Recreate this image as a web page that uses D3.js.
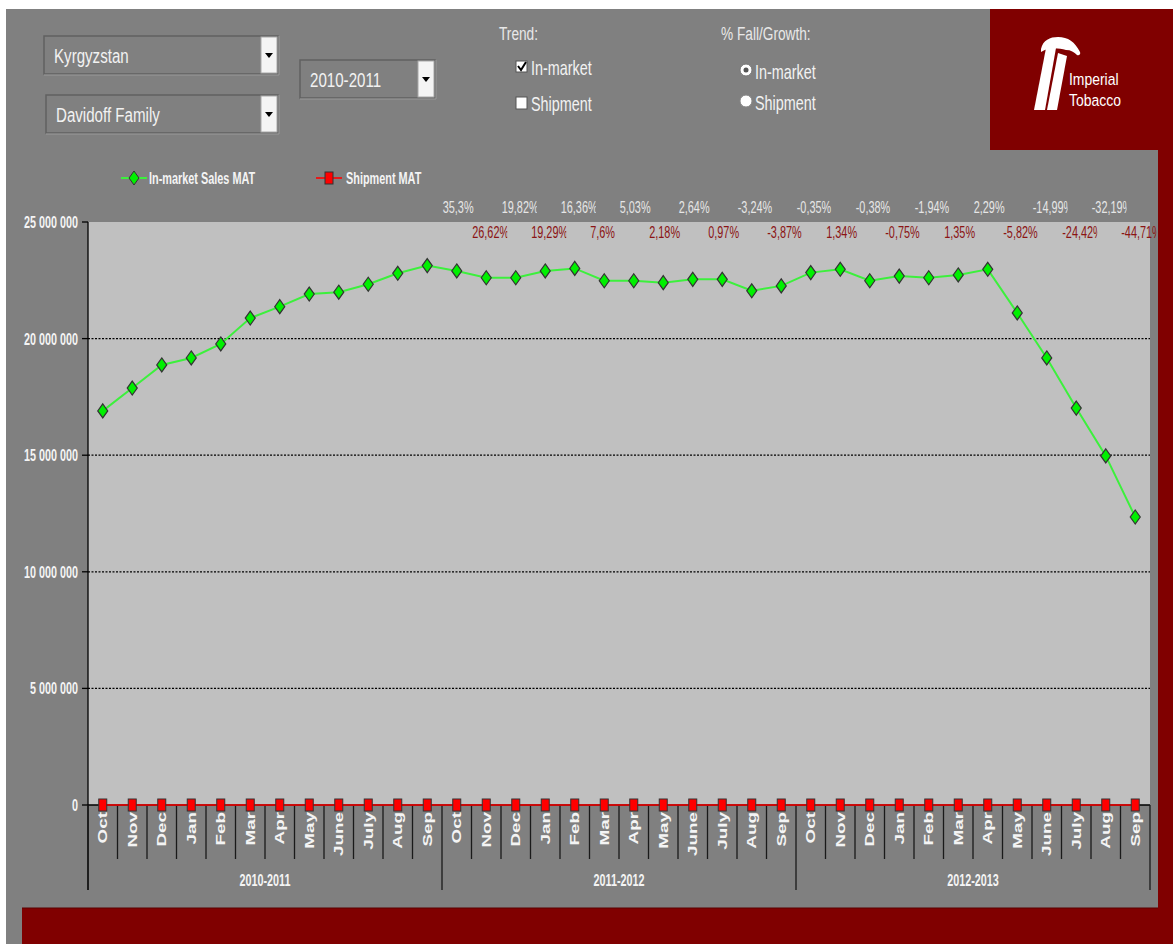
<!DOCTYPE html>
<html>
<head>
<meta charset="utf-8">
<script src="https://cdn.jsdelivr.net/npm/d3@7"></script>
<style>
body{margin:0;background:#fff;}
text{font-family:"Liberation Sans", Arial, sans-serif;}
</style>
</head>
<body>
<div id="vis"></div>
<script>
// chart values
var months = ["Oct","Nov","Dec","Jan","Feb","Mar","Apr","May","June","July","Aug","Sep"];
var years = ["2010-2011","2011-2012","2012-2013"];
// In-market Sales MAT, one value per month Oct 2010 .. Sep 2013
var inMarket = [16900000,17880000,18870000,19170000,19770000,20880000,21370000,21910000,21990000,22330000,22800000,23130000,
                22900000,22610000,22610000,22900000,23010000,22480000,22480000,22400000,22540000,22540000,22050000,22260000,
                22830000,22970000,22480000,22680000,22610000,22730000,22970000,21100000,19170000,17020000,14970000,12350000];
var shipment = [0,0,0,0,0,0,0,0,0,0,0,0, 0,0,0,0,0,0,0,0,0,0,0,0, 0,0,0,0,0,0,0,0,0,0,0,0];
// % fall/growth labels, Oct 2011 .. Sep 2013
var growthLabels = ["35,3%","26,62%","19,82%","19,29%","16,36%","7,6%","5,03%","2,18%","2,64%","0,97%","-3,24%","-3,87%",
                    "-0,35%","1,34%","-0,38%","-0,75%","-1,94%","1,35%","2,29%","-5,82%","-14,99%","-24,42%","-32,19%","-44,71%"];
var yTicks = [0,5000000,10000000,15000000,20000000,25000000];
var yTickLabels = ["0","5 000 000","10 000 000","15 000 000","20 000 000","25 000 000"];
var legendNames = ["In-market Sales MAT","Shipment MAT"];

var W = 1173, H = 944;
var SX = 0.72; // the original is stretched vertically, so text runs narrow

var svg = d3.select("#vis").append("svg")
	.attr("width", W)
	.attr("height", H);

// horizontal text, squeezed like the original
function txt(g, x, y, s, size, fill, weight, anchor, sx) {
	return g.append("text")
		.attr("transform", "translate(" + x + "," + y + ") scale(" + (sx || SX) + ",1)")
		.attr("font-size", size)
		.attr("fill", fill)
		.attr("font-weight", weight || "normal")
		.attr("text-anchor", anchor || "start")
		.text(s);
}

// page background
svg.append("rect").attr("x", 6).attr("y", 9).attr("width", W - 6).attr("height", H - 9).attr("fill", "#808080");
svg.append("rect").attr("x", 990).attr("y", 9).attr("width", W - 990).attr("height", 141).attr("fill", "#800000");
svg.append("rect").attr("x", 1158).attr("y", 150).attr("width", W - 1158).attr("height", H - 150).attr("fill", "#800000");
svg.append("rect").attr("x", 22).attr("y", 908).attr("width", W - 22).attr("height", H - 908).attr("fill", "#800000");
svg.append("line").attr("x1", 22).attr("x2", 1158).attr("y1", 908).attr("y2", 908).attr("stroke", "#5a0000").attr("stroke-width", 1);

// logo
var logo = svg.append("g").attr("fill", "#fff");
logo.append("path").attr("d", "M1034,110 L1045,110 L1056,48 L1046,48 Z");
logo.append("path").attr("d", "M1047,110 L1057,110 L1067,56 L1058,53 Z");
logo.append("path").attr("d", "M1041,49 C1043,40 1050,37 1058,37 C1068,37 1075,42 1080,52 C1081,54 1079,56 1077,55 C1074,52 1071,50 1066,50 C1058,48 1049,47 1041,52 Z");
txt(logo, 1069, 85, "Imperial", 17, "#fff", "normal", "start", 0.82);
txt(logo, 1069, 106, "Tobacco", 17, "#fff", "normal", "start", 0.82);

// dropdowns
function combo(x, y, w, h, label) {
	var g = svg.append("g");
	g.append("rect").attr("x", x).attr("y", y).attr("width", w).attr("height", h)
		.attr("fill", "#808080").attr("stroke", "#606060").attr("stroke-width", 1.5);
	g.append("path").attr("d", "M" + x + "," + (y + h + 1) + " H" + (x + w + 1) + " V" + y)
		.attr("fill", "none").attr("stroke", "#9a9a9a").attr("stroke-width", 1);
	g.append("rect").attr("x", x + w - 17).attr("y", y + 1).attr("width", 16).attr("height", h - 2)
		.attr("fill", "#f4f4f4").attr("stroke", "#a8a8a8");
	var cx = x + w - 9, cy = y + h / 2;
	g.append("path").attr("d", "M" + (cx - 4) + "," + (cy - 2) + " L" + (cx + 4) + "," + (cy - 2) + " L" + cx + "," + (cy + 3) + " Z")
		.attr("fill", "#000");
	txt(g, x + 10, y + h / 2 + 7.5, label, 21, "#f2f2f2");
}
combo(44, 36, 234, 38, "Kyrgyzstan");
combo(46, 95, 232, 38, "Davidoff Family");
combo(300, 60, 135, 38, "2010-2011");

// trend checkboxes
txt(svg, 499, 40, "Trend:", 19, "#e8e8e8");
svg.append("rect").attr("x", 516).attr("y", 61).attr("width", 11).attr("height", 11).attr("fill", "#fff").attr("stroke", "#555");
svg.append("path").attr("d", "M518,66 L521,70 L526,62").attr("fill", "none").attr("stroke", "#000").attr("stroke-width", 2);
txt(svg, 531, 75, "In-market", 20, "#f2f2f2");
svg.append("rect").attr("x", 516).attr("y", 97).attr("width", 11).attr("height", 12).attr("fill", "#fff").attr("stroke", "#555");
txt(svg, 531, 111, "Shipment", 20, "#f2f2f2");

// fall/growth radios
txt(svg, 721, 40, "% Fall/Growth:", 19, "#e8e8e8");
svg.append("circle").attr("cx", 746).attr("cy", 70).attr("r", 6).attr("fill", "#fff").attr("stroke", "#777");
svg.append("circle").attr("cx", 746).attr("cy", 70).attr("r", 2.5).attr("fill", "#555");
txt(svg, 755, 79, "In-market", 20, "#f2f2f2");
svg.append("circle").attr("cx", 746).attr("cy", 101).attr("r", 6).attr("fill", "#fff").attr("stroke", "#888");
txt(svg, 755, 110, "Shipment", 20, "#f2f2f2");

// scales
var cats = [];
years.forEach(function(yr){
	months.forEach(function(m){ cats.push(yr + "|" + m); });
});
var x = d3.scaleBand().domain(cats).range([88, 1150]);
var y = d3.scaleLinear().domain([0, 25000000]).range([805, 222]);
var bw = x.bandwidth();
function cx(i){ return x(cats[i]) + bw / 2; }

// plot area
svg.append("rect").attr("x", 88).attr("y", y(25000000)).attr("width", 1150 - 88).attr("height", y(0) - y(25000000))
	.attr("fill", "#c0c0c0");

// grid
svg.selectAll(".grid")
	.data(yTicks.filter(function(d){ return d > 0 && d < 25000000; }))
	.enter().append("line")
		.attr("class", "grid")
		.attr("x1", 88).attr("x2", 1150)
		.attr("y1", function(d){ return y(d); }).attr("y2", function(d){ return y(d); })
		.attr("stroke", "#000").attr("stroke-width", 1.3).attr("stroke-dasharray", "2,1.5");

// y axis
svg.append("line").attr("x1", 88).attr("x2", 88).attr("y1", y(25000000)).attr("y2", 890).attr("stroke", "#000").attr("stroke-width", 1.3);
svg.selectAll(".ytick")
	.data(yTicks)
	.enter().append("line")
		.attr("class", "ytick")
		.attr("x1", 82).attr("x2", 88)
		.attr("y1", function(d){ return y(d); }).attr("y2", function(d){ return y(d); })
		.attr("stroke", "#000").attr("stroke-width", 1.3);
yTicks.forEach(function(d, i){
	txt(svg, 78, y(d) + 6, yTickLabels[i], 16.5, "#f4f4f4", "bold", "end", 0.655);
});

// x axis: category separators, month and year labels
svg.append("line").attr("x1", 88).attr("x2", 1150).attr("y1", y(0)).attr("y2", y(0)).attr("stroke", "#000").attr("stroke-width", 1.3);
var bounds = cats.map(function(c){ return x(c); }).concat([x.range()[1]]);
svg.selectAll(".xsep")
	.data(bounds)
	.enter().append("line")
		.attr("class", "xsep")
		.attr("x1", function(d){ return d; }).attr("x2", function(d){ return d; })
		.attr("y1", y(0))
		.attr("y2", function(d, i){ return i % 12 == 0 ? 890 : 859; })
		.attr("stroke", "#1a1a1a").attr("stroke-width", 1.3);
svg.selectAll(".mlab")
	.data(cats)
	.enter().append("text")
		.attr("class", "mlab")
		.attr("transform", function(d, i){ return "translate(" + (cx(i) + 4.5) + ",812) rotate(-90) scale(1.45,1)"; })
		.attr("font-size", 13)
		.attr("font-weight", "bold")
		.attr("fill", "#f4f4f4")
		.attr("text-anchor", "end")
		.text(function(d){ return d.split("|")[1]; });
years.forEach(function(yr, i){
	var mid = (x(yr + "|" + months[0]) + x(yr + "|" + months[11]) + bw) / 2;
	txt(svg, mid, 886, yr, 16.5, "#f4f4f4", "bold", "middle", 0.655);
});

// series
var line = d3.line()
	.x(function(d, i){ return cx(i); })
	.y(function(d){ return y(d); });
svg.append("path").datum(shipment).attr("d", line).attr("fill", "none").attr("stroke", "#ff0000").attr("stroke-width", 1.6);
svg.append("path").datum(inMarket).attr("d", line).attr("fill", "none").attr("stroke", "#3cf03c").attr("stroke-width", 2);

function diamond(px, py){ return "M" + px + "," + (py - 7) + " L" + (px + 5) + "," + py + " L" + px + "," + (py + 7) + " L" + (px - 5) + "," + py + " Z"; }

svg.selectAll(".ship")
	.data(shipment)
	.enter().append("rect")
		.attr("class", "ship")
		.attr("x", function(d, i){ return cx(i) - 4; })
		.attr("y", function(d){ return y(d) - 6; })
		.attr("width", 8).attr("height", 12)
		.attr("fill", "#ff0000").attr("stroke", "#333").attr("stroke-width", 1);
svg.selectAll(".inm")
	.data(inMarket)
	.enter().append("path")
		.attr("class", "inm")
		.attr("d", function(d, i){ return diamond(cx(i), y(d)); })
		.attr("fill", "#00f000").attr("stroke", "#333").attr("stroke-width", 1.2);

// growth labels, alternating rows, each in a clipped box like the original
var defs = svg.append("defs");
growthLabels.forEach(function(s, k){
	var lx = cx(12 + k) - 14;
	var top = (k % 2 == 0);
	defs.append("clipPath").attr("id", "gl" + k)
		.append("rect").attr("x", lx - 1).attr("y", 195).attr("width", 36).attr("height", 50);
	var g = svg.append("g").attr("clip-path", "url(#gl" + k + ")");
	txt(g, lx, top ? 213 : 238, s, 16, top ? "#e6e6e6" : "#8b1414", "normal", "start", 0.68);
});

// legend
var lg = svg.append("g");
lg.append("line").attr("x1", 121).attr("x2", 147).attr("y1", 178).attr("y2", 178).attr("stroke", "#3cf03c").attr("stroke-width", 2);
lg.append("path").attr("d", diamond(134, 178)).attr("fill", "#00f000").attr("stroke", "#333");
txt(lg, 149, 184, legendNames[0], 16, "#f4f4f4", "bold", "start", 0.68);
lg.append("line").attr("x1", 316).attr("x2", 342).attr("y1", 178).attr("y2", 178).attr("stroke", "#ff0000").attr("stroke-width", 1.6);
lg.append("rect").attr("x", 325).attr("y", 172).attr("width", 8).attr("height", 12).attr("fill", "#ff0000").attr("stroke", "#333");
txt(lg, 346, 184, legendNames[1], 16, "#f4f4f4", "bold", "start", 0.68);
</script>
</body>
</html>
